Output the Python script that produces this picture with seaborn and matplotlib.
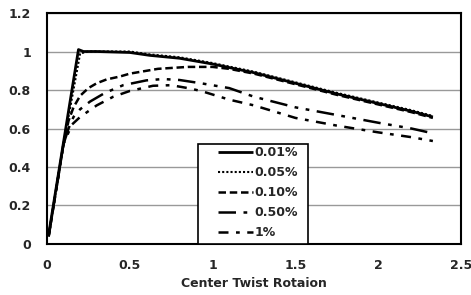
import matplotlib
matplotlib.use("Agg")
import matplotlib.pyplot as plt
import matplotlib.patches as mpatches
import seaborn as sns
import pandas as pd

# readings
x_001 = [0.01, 0.10, 0.19, 0.22, 0.30, 0.50, 0.62, 0.80, 1.00, 1.11, 1.25, 1.50, 1.75, 2.00, 2.20, 2.33]
y_001 = [0.05, 0.53, 1.01, 1.00, 1.00, 0.995, 0.98, 0.965, 0.935, 0.915, 0.89, 0.835, 0.78, 0.73, 0.69, 0.66]

x_005 = [0.01, 0.10, 0.20, 0.25, 0.30, 0.50, 0.62, 0.80, 1.00, 1.11, 1.25, 1.50, 1.75, 2.00, 2.20, 2.33]
y_005 = [0.04, 0.52, 0.99, 1.00, 1.00, 1.00, 0.985, 0.97, 0.94, 0.92, 0.895, 0.84, 0.785, 0.735, 0.695, 0.665]

x_010 = [0.01, 0.10, 0.13, 0.16, 0.20, 0.25, 0.30, 0.36, 0.44, 0.50, 0.67, 0.85, 1.00, 1.10, 1.25, 1.50, 1.75, 2.00, 2.20, 2.33]
y_010 = [0.04, 0.52, 0.64, 0.71, 0.77, 0.81, 0.835, 0.855, 0.87, 0.885, 0.91, 0.92, 0.92, 0.91, 0.885, 0.83, 0.775, 0.725, 0.685, 0.655]

x_050 = [0.01, 0.10, 0.13, 0.16, 0.20, 0.26, 0.35, 0.46, 0.60, 0.70, 0.80, 0.93, 1.10, 1.25, 1.50, 1.75, 2.00, 2.20, 2.33]
y_050 = [0.04, 0.52, 0.60, 0.66, 0.70, 0.74, 0.785, 0.825, 0.85, 0.857, 0.852, 0.835, 0.81, 0.765, 0.71, 0.67, 0.63, 0.60, 0.575]

x_1 = [0.01, 0.10, 0.13, 0.15, 0.20, 0.30, 0.40, 0.50, 0.64, 0.75, 0.85, 0.93, 1.10, 1.25, 1.50, 1.75, 2.00, 2.20, 2.33]
y_1 = [0.04, 0.52, 0.58, 0.62, 0.66, 0.72, 0.765, 0.795, 0.822, 0.825, 0.81, 0.795, 0.75, 0.72, 0.655, 0.615, 0.58, 0.555, 0.535]

labels = ["0.01%", "0.05%", "0.10%", "0.50%", "1%"]
xs = [x_001, x_005, x_010, x_050, x_1]
ys = [y_001, y_005, y_010, y_050, y_1]

styles = [(0, ()), (0, (1, 1)), (0, (3, 1.5)), (0, (7, 3, 1.5, 3, 1.5, 3)), (0, (4, 3, 1.5, 3))]
widths = [2.0, 1.5, 1.8, 1.8, 1.8]

sns.set_style("white")
plt.rcParams["font.family"] = ["DejaVu Sans"]
plt.rcParams["font.weight"] = "bold"

fig = plt.figure(figsize=(4.71, 2.95), dpi=100)
ax = fig.add_axes([0.0998, 0.1729, 0.879, 0.783])

for lab, xv, yv, ls, lw in zip(labels, xs, ys, styles, widths):
    df = pd.DataFrame({"x": xv, "y": yv})
    sns.lineplot(data=df, x="x", y="y", ax=ax, color="black",
                 linestyle=ls, linewidth=lw, label=lab)

ax.set_xlim(0, 2.5)
ax.set_ylim(0, 1.2)
ax.set_xticks([0, 0.5, 1, 1.5, 2, 2.5])
ax.set_xticklabels(["0", "0.5", "1", "1.5", "2", "2.5"])
ax.set_yticks([0, 0.2, 0.4, 0.6, 0.8, 1.0, 1.2])
ax.set_yticklabels(["0", "0.2", "0.4", "0.6", "0.8", "1", "1.2"])
ax.yaxis.grid(True, color="#999999", linewidth=1)
ax.set_axisbelow(True)
for s in ax.spines.values():
    s.set_color("black")
    s.set_linewidth(1.5)
ax.tick_params(axis="both", direction="out", length=3.6, width=1.2, color="black",
               labelsize=9)
ax.tick_params(axis="y", pad=8)
ax.tick_params(axis="x", pad=7)
ax.set_xlabel("Center Twist Rotaion", fontsize=9, fontweight="bold", labelpad=4)
ax.set_ylabel("")

# legend frame
frame = mpatches.Rectangle((0.365, 0.0), 0.266, 0.433, transform=ax.transAxes,
                           facecolor="white", edgecolor="black", linewidth=1.2,
                           zorder=4, clip_on=False)
ax.add_patch(frame)
leg = ax.legend(loc="upper left", bbox_to_anchor=(0.413, 0.424),
                fontsize=9, frameon=False, handlelength=2.8,
                handletextpad=0.15, borderpad=0, labelspacing=0.56,
                borderaxespad=0)
leg.set_zorder(5)

fig.savefig("out.png", dpi=100)
